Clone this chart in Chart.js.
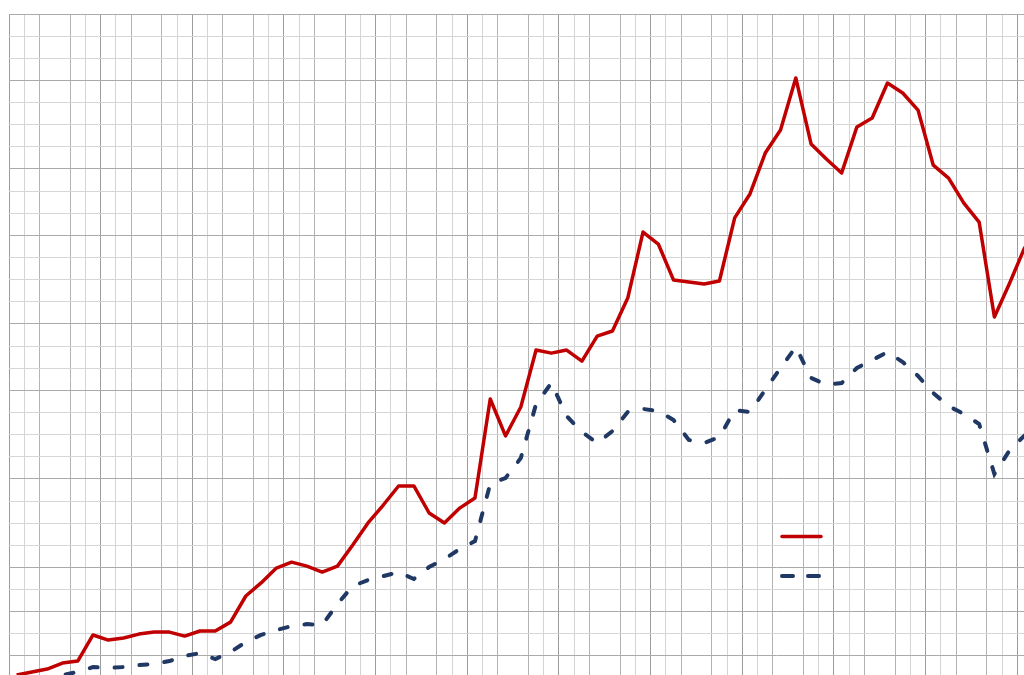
<!DOCTYPE html>
<html>
<head>
<meta charset="utf-8">
<script src="https://cdn.jsdelivr.net/npm/chart.js@4/dist/chart.umd.min.js"></script>
<style>
  html, body { margin: 0; padding: 0; background: #ffffff; overflow: hidden; width: 1024px; height: 675px; }
  #wrap { position: absolute; left: 0; top: 0; width: 1040px; height: 760px; }
</style>
</head>
<body>
<div id="wrap"><canvas id="c"></canvas></div>
<script>
// ---- data (one gridline = 1 unit) ----
const categories = ['1','2','3','4','5','6','7','8','9','10','11','12','13','14','15','16','17','18','19','20',
  '21','22','23','24','25','26','27','28','29','30','31','32','33','34','35','36','37','38','39','40',
  '41','42','43','44','45','46','47','48','49','50','51','52','53','54','55','56','57','58','59','60',
  '61','62','63','64','65','66','67'];

const seriesRed = [0.14, 0.28, 0.41, 0.68, 0.77, 1.95, 1.72, 1.81, 1.99, 2.08,
  2.08, 1.90, 2.13, 2.13, 2.53, 3.71, 4.30, 4.97, 5.24, 5.06,
  4.79, 5.06, 6.01, 7.01, 7.82, 8.68, 8.68, 7.46, 7.01, 7.68,
  8.14, 12.61, 10.94, 12.25, 14.82, 14.68, 14.82, 14.32, 15.45, 15.68,
  17.17, 20.15, 19.61, 17.98, 17.89, 17.80, 17.94, 20.79, 21.87, 23.72,
  24.76, 27.11, 24.13, 23.45, 22.82, 24.90, 25.30, 26.88, 26.43, 25.66,
  23.17, 22.59, 21.46, 20.60, 16.31, 17.85, 19.48];

const seriesBlue = [-0.27, -0.18, -0.04, 0.14, 0.28, 0.50, 0.46, 0.50, 0.59, 0.64,
  0.77, 1.00, 1.13, 0.86, 1.18, 1.63, 1.95, 2.17, 2.35, 2.44,
  2.40, 3.35, 4.16, 4.43, 4.61, 4.79, 4.48, 5.02, 5.38, 5.83,
  6.19, 8.77, 9.04, 9.94, 12.38, 13.33, 11.84, 11.12, 10.62, 11.16,
  12.02, 12.16, 12.07, 11.66, 10.76, 10.62, 10.89, 12.11, 12.02, 13.02,
  14.01, 14.96, 13.56, 13.25, 13.33, 14.01, 14.37, 14.73, 14.28, 13.65,
  12.88, 12.29, 11.93, 11.48, 9.22, 10.30, 10.98];

const seriesNames = ['Series 1', 'Series 2'];
const yMin = -3, yMax = 30, yStep = 1;

// ---- styles ----
const RED = '#c00000';
const BLUE = '#203864';
const hDark = [0, 3, 7, 10, 14, 17, 21, 25, 27, 29];

function vGridColor(ctx) {
  const i = ctx.index;
  if (i === undefined) return '#d4d4d4';
  const m = i % 6;
  if (m === 3) return 'rgba(0,0,0,0)';
  if (m === 0) return '#9c9c9c';
  if (m === 2 || m === 4) return '#b4b4b4';
  return '#d4d4d4';
}
function hGridColor(ctx) {
  if (!ctx.tick) return '#d0d0d0';
  const k = Math.round(yMax - ctx.tick.value);
  return hDark.includes(k) ? '#aaaaaa' : '#d6d6d6';
}

const legendInPlot = {
  id: 'legendInPlot',
  afterDatasetsDraw(chart) {
    const c = chart.ctx;
    const a = chart.chartArea;
    const items = [
      { ds: chart.data.datasets[0], y: a.top + 522.5, dash: [] },
      { ds: chart.data.datasets[1], y: a.top + 562, dash: [11, 15] }
    ];
    c.save();
    items.forEach(it => {
      c.beginPath();
      c.strokeStyle = it.ds.borderColor;
      c.lineWidth = it.ds.borderWidth;
      c.lineCap = 'round';
      c.setLineDash(it.dash);
      c.moveTo(a.left + 773, it.y);
      c.lineTo(a.left + 812, it.y);
      c.stroke();
    });
    c.restore();
  }
};

new Chart(document.getElementById('c'), {
  type: 'line',
  data: {
    labels: categories,
    datasets: [
      {
        label: seriesNames[0],
        data: seriesRed,
        borderColor: RED,
        backgroundColor: RED,
        borderWidth: 3.5,
        pointRadius: 0,
        tension: 0,
        borderJoinStyle: 'round'
      },
      {
        label: seriesNames[1],
        data: seriesBlue,
        borderColor: BLUE,
        backgroundColor: BLUE,
        borderWidth: 4,
        borderDash: [8, 17],
        borderCapStyle: 'round',
        pointRadius: 0,
        tension: 0
      }
    ]
  },
  options: {
    responsive: true,
    maintainAspectRatio: false,
    animation: false,
    layout: { padding: { left: 9, top: 14, right: 7.4, bottom: 15.45 } },
    plugins: {
      legend: { display: false },
      title: { display: false },
      tooltip: { enabled: false }
    },
    scales: {
      x: {
        type: 'category',
        offset: true,
        grid: { offset: true, color: vGridColor, lineWidth: 1, drawTicks: false },
        border: { display: false },
        ticks: { display: false },
        afterFit: s => { s.height = 0; }
      },
      y: {
        type: 'linear',
        min: yMin,
        max: yMax,
        ticks: { display: false, stepSize: yStep },
        grid: { color: hGridColor, lineWidth: 1, drawTicks: false },
        border: { display: false },
        afterFit: s => { s.width = 0; }
      }
    }
  },
  plugins: [legendInPlot]
});
</script>
</body>
</html>
